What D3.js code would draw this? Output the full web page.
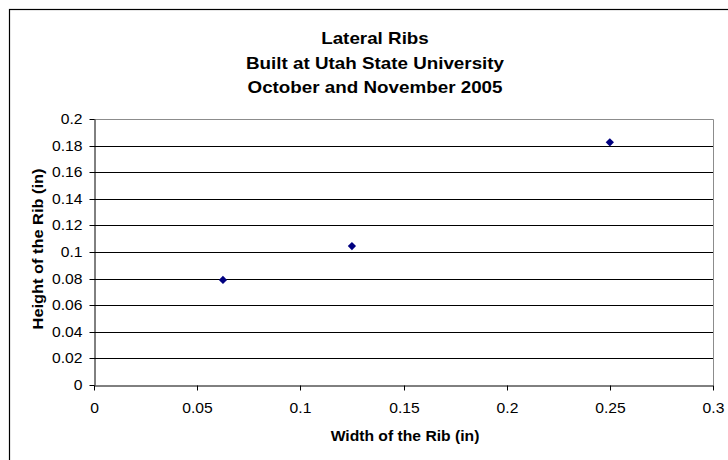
<!DOCTYPE html>
<html>

<head>
    <meta charset="utf-8">
    <title>Lateral Ribs</title>
    <script src="https://cdn.jsdelivr.net/npm/d3@7"></script>
    <style>
        body {
            margin: 0;
            background: white;
        }

        svg {
            font-family: Arial, "Liberation Sans", sans-serif;
        }

        .axis text {
            font-size: 14px;
            fill: black;
        }
    </style>
</head>

<body>
    <script>
        // Data
        const ribWidth = [0.0625, 0.125, 0.25];
        const ribHeight = [0.079, 0.1045, 0.1825];
        const xTicks = [0, 0.05, 0.1, 0.15, 0.2, 0.25, 0.3];
        const yTicks = [0, 0.02, 0.04, 0.06, 0.08, 0.1, 0.12, 0.14, 0.16, 0.18, 0.2];
        const titleLines = ['Lateral Ribs', 'Built at Utah State University', 'October and November 2005'];

        const width = 728;
        const height = 460;
        const plot = { left: 94, right: 713, top: 119, bottom: 385 };
        const stretch = 1.12; // text in the original is a bit wide

        const svg = d3.select('body')
            .append('svg')
            .attr('width', width)
            .attr('height', height);

        // Outer chart border (runs off the right and bottom edge)
        svg.append('rect')
            .attr('x', 9.5)
            .attr('y', 9.5)
            .attr('width', 800)
            .attr('height', 600)
            .attr('fill', 'white')
            .attr('stroke', '#000')
            .attr('stroke-width', 1.2);

        const xScale = d3.scaleLinear()
            .domain([0, 0.3])
            .range([plot.left, plot.right]);

        const yScale = d3.scaleLinear()
            .domain([0, 0.2])
            .range([plot.bottom, plot.top]);

        const crisp = v => Math.round(v) + 0.5;
        const fmt = d => String(+d.toFixed(2));

        // Gridlines
        svg.append('g')
            .selectAll('line')
            .data(yTicks.slice(1, -1))
            .enter()
            .append('line')
            .attr('x1', plot.left)
            .attr('x2', plot.right)
            .attr('y1', d => crisp(yScale(d)))
            .attr('y2', d => crisp(yScale(d)))
            .attr('stroke', '#000');

        // Plot frame: top and right in grey
        svg.append('path')
            .attr('d', `M${plot.left},${crisp(plot.top)}H${crisp(plot.right)}V${plot.bottom}`)
            .attr('fill', 'none')
            .attr('stroke', '#8c8c8c');

        // Axes
        const xAxis = svg.append('g')
            .attr('class', 'axis')
            .attr('transform', `translate(0, ${crisp(plot.bottom)})`)
            .call(d3.axisBottom(xScale)
                .tickValues(xTicks)
                .tickFormat(fmt)
                .tickSize(5)
                .tickSizeOuter(0)
                .tickPadding(13));

        const yAxis = svg.append('g')
            .attr('class', 'axis')
            .attr('transform', `translate(${crisp(plot.left)}, 0)`)
            .call(d3.axisLeft(yScale)
                .tickValues(yTicks)
                .tickFormat(fmt)
                .tickSize(5)
                .tickSizeOuter(0)
                .tickPadding(7));

        svg.selectAll('.axis .domain').attr('stroke', '#000');
        svg.selectAll('.axis .tick line').attr('stroke', '#000');
        xAxis.selectAll('.tick').attr('transform', d => `translate(${crisp(xScale(d))},0)`);
        yAxis.selectAll('.tick').attr('transform', d => `translate(0,${crisp(yScale(d))})`);

        xAxis.selectAll('.tick text')
            .attr('transform', `scale(${stretch},1)`);
        yAxis.selectAll('.tick text')
            .attr('x', -12 / stretch)
            .attr('transform', `scale(${stretch},1)`);

        // Points
        const diamond = d3.symbol(d3.symbolSquare, 34);
        svg.append('g')
            .selectAll('path')
            .data(ribWidth.map((w, i) => ({ w, h: ribHeight[i] })))
            .enter()
            .append('path')
            .attr('d', diamond)
            .attr('transform', d => `translate(${xScale(d.w)}, ${yScale(d.h)}) rotate(45)`)
            .attr('fill', '#000080');

        // Title
        svg.append('g')
            .attr('transform', `translate(375, 44) scale(${stretch + 0.02},1)`)
            .append('text')
            .attr('text-anchor', 'middle')
            .style('font-size', '16.5px')
            .style('font-weight', 'bold')
            .selectAll('tspan')
            .data(titleLines)
            .enter()
            .append('tspan')
            .attr('x', 0)
            .attr('dy', (d, i) => i === 0 ? 0 : 24.6)
            .text(d => d);

        // Axis titles
        svg.append('text')
            .attr('transform', `translate(405, 441) scale(${stretch},1)`)
            .attr('text-anchor', 'middle')
            .style('font-size', '14px')
            .style('font-weight', 'bold')
            .text('Width of the Rib (in)');

        svg.append('text')
            .attr('transform', `translate(43, 249) rotate(-90) scale(${stretch + 0.05},1)`)
            .attr('text-anchor', 'middle')
            .style('font-size', '14px')
            .style('font-weight', 'bold')
            .text('Height of the Rib (in)');
    </script>
</body>

</html>
